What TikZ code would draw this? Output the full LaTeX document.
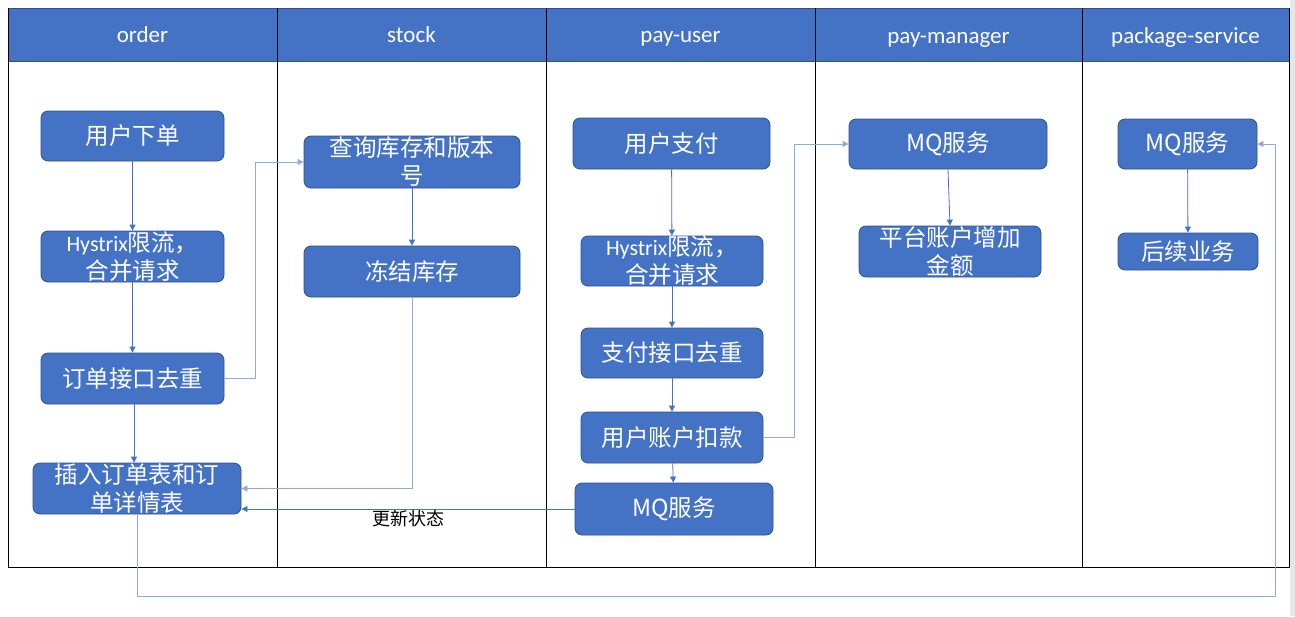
\documentclass[tikz,border=0pt]{standalone}
\usepackage{fontspec}
\setmainfont{Carlito}
\newfontfamily\cjk{Noto Sans CJK SC}
\newfontfamily\latf{Carlito}
\usetikzlibrary{arrows.meta,calc}
\definecolor{hdr}{HTML}{4472C4}
\definecolor{bdr}{HTML}{2F528F}
\definecolor{lnk}{HTML}{4472C4}
\definecolor{lite}{HTML}{8FAADC}
\definecolor{scroll}{HTML}{E6E6E6}
\newcommand\hys{{\latf\fontsize{22}{28}\selectfont Hystrix}}
\begin{document}
\begin{tikzpicture}[x=1pt,y=-1pt,
  box/.style={draw=bdr, line width=0.8pt, fill=hdr, rounded corners=7pt, text=white,
    align=center, inner sep=0pt, font=\fontsize{23.5}{28}\selectfont\cjk},
  hdrtext/.style={text=white, font=\fontsize{23}{26}\selectfont\latf, inner sep=0pt, anchor=base},
  frame/.style={draw=black, line width=0.9pt},
  conn/.style={draw=lnk, line width=0.8pt, -{Triangle[length=6pt,width=6pt]}},
  liteconn/.style={draw=lite, line width=0.8pt, -{Triangle[length=6pt,width=6pt]}},
  lbl/.style={text=black, font=\fontsize{18}{20}\selectfont\cjk, inner sep=0pt}
]
\useasboundingbox (0,0) rectangle (1295,616);
\fill[white] (0,0) rectangle (1295,616);
\fill[scroll] (1290,0) rectangle (1295,616);

% header band
\fill[hdr] (8,8) rectangle (1289,61);
\draw[bdr, line width=0.8pt] (8,8) -- (1289,8);
\draw[bdr, line width=0.8pt] (8,61) -- (1289,61);
% frame and lane dividers
\draw[frame] (8,8) -- (8,567) -- (1289,567) -- (1289,8);
\foreach \xx in {277,546,815,1082} \draw[frame] (\xx,8) -- (\xx,567);

\node[hdrtext] (h1) at (142.5,42) {order};
\node[hdrtext] (h2) at (411.5,42) {stock};
\node[hdrtext] (h3) at (680.5,42) {pay-user};
\node[hdrtext] (h4) at (948.5,43) {pay-manager};
\node[hdrtext] (h5) at (1185.5,43) {package-service};

% order lane
\node[box, minimum width=183pt, minimum height=50pt] (o1) at (132.5,136) {用户下单};
\node[box, minimum width=183pt, minimum height=51pt] (o2) at (132.5,256.5) {\hys 限流，\\ 合并请求};
\node[box, minimum width=183pt, minimum height=51pt] (o3) at (132.5,378.5) {订单接口去重};
\node[box, minimum width=208pt, minimum height=51pt] (o4) at (137,488.5) {插入订单表和订\\单详情表};

% stock lane
\node[box, minimum width=216pt, minimum height=52pt] (s1) at (412,162) {查询库存和版本\\号};
\node[box, minimum width=216pt, minimum height=51pt] (s2) at (412,271.5) {冻结库存};

% pay-user lane
\node[box, minimum width=197pt, minimum height=51pt] (u1) at (671.5,143.5) {用户支付};
\node[box, minimum width=182pt, minimum height=50pt] (u2) at (672,261) {\hys 限流，\\ 合并请求};
\node[box, minimum width=182pt, minimum height=50pt] (u3) at (672,353) {支付接口去重};
\node[box, minimum width=182pt, minimum height=51pt] (u4) at (672,437.5) {用户账户扣款};
\node[box, minimum width=198pt, minimum height=52pt] (u5) at (674,509) {MQ服务};

% pay-manager lane
\node[box, minimum width=198pt, minimum height=50pt] (m1) at (948,144) {MQ服务};
\node[box, minimum width=182pt, minimum height=51pt] (m2) at (950,251.5) {平台账户增加\\金额};

% package-service lane
\node[box, minimum width=139pt, minimum height=50pt] (p1) at (1187.5,144) {MQ服务};
\node[box, minimum width=140pt, minimum height=37pt] (p2) at (1188,251.5) {后续业务};

\coordinate (loop) at (1275,596);

% connectors
\draw[conn] (o1) -- (o2);
\draw[conn] (o2) -- (o3);
\draw[conn] (o3.south -| 134,0) -- (o4.north -| 134,0);
\draw[liteconn] (o3.east) -- ++(31,0) |- (s1.west);
\draw[conn] (s1) -- (s2);
\draw[liteconn] (s2.south) |- (o4.east);
\draw[conn] (u5.west) -- (u5.west -| o4.east) node[lbl, pos=0.5, below=1pt] (upd) {更新状态};
\draw[conn] (u1) -- (u2);
\draw[conn] (u2) -- (u3);
\draw[conn] (u3) -- (u4);
\draw[conn] (u4) -- (u5);
\draw[liteconn] (u4.east) -- ++(31,0) |- (m1.west);
\draw[conn] (m1.south) -- (m2.north);
\draw[conn] (p1) -- (p2);
\draw[liteconn] (o4.south) |- (loop) |- (p1.east);
\end{tikzpicture}
\end{document}
